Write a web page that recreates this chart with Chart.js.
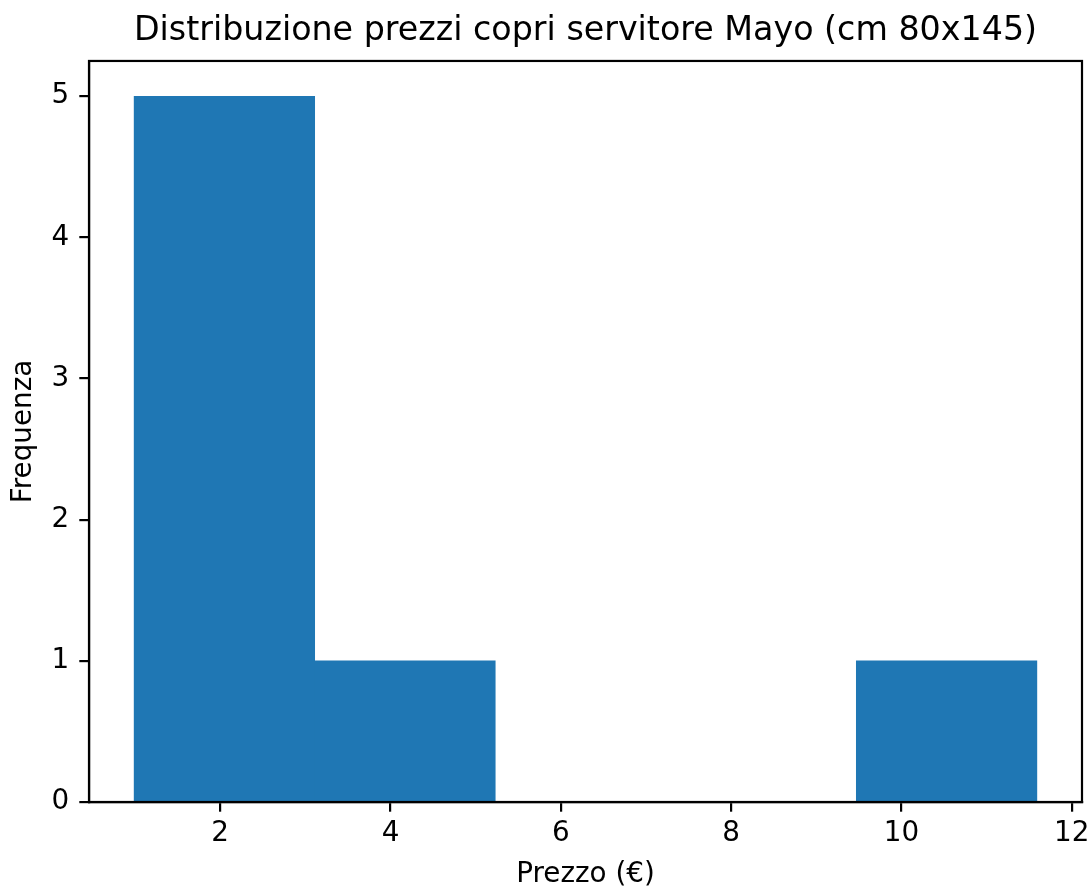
<!DOCTYPE html>
<html>
<head>
<meta charset="utf-8">
<script src="https://cdn.jsdelivr.net/npm/chart.js@4/dist/chart.umd.min.js"></script>
<style>
  html, body { margin: 0; padding: 0; background: #fff; }
  #wrap { width: 1087px; height: 886px; }
</style>
</head>
<body>
<div id="wrap"><canvas id="c" width="1087" height="886"></canvas></div>
<script>
// Histogram data
const binEdges = [0.99, 3.11, 5.23, 7.35, 9.47, 11.59];
const counts = [5, 1, 0, 0, 1];
const xTicks = [2, 4, 6, 8, 10, 12];
const yTicks = [0, 1, 2, 3, 4, 5];
const titleText = 'Distribuzione prezzi copri servitore Mayo (cm 80x145)';
const xLabel = 'Prezzo (€)';
const yLabel = 'Frequenza';

const FONT = 'DejaVu Sans';
const barData = counts.map((c, i) => ({ x: (binEdges[i] + binEdges[i + 1]) / 2, y: c }));
const span = binEdges[binEdges.length - 1] - binEdges[0];
const xMin = binEdges[0] - span * 0.05;
const xMax = binEdges[binEdges.length - 1] + span * 0.05;
const yMax = Math.max(...counts) * 1.05;

const frame = {
  id: 'frame',
  afterDraw(chart) {
    const { ctx, chartArea: a } = chart;
    ctx.save();
    ctx.strokeStyle = '#000';
    ctx.lineWidth = 2.2;
    ctx.strokeRect(a.left, a.top, a.right - a.left, a.bottom - a.top);
    ctx.restore();
  }
};

new Chart(document.getElementById('c'), {
  type: 'bar',
  data: {
    datasets: [{
      data: barData,
      backgroundColor: '#1f77b4',
      borderWidth: 0,
      barThickness: 'flex',
      barPercentage: 1,
      categoryPercentage: 1
    }]
  },
  options: {
    responsive: false,
    animation: false,
    devicePixelRatio: 1,
    layout: { padding: { left: 0, right: 5, top: 0, bottom: 0 } },
    plugins: {
      legend: { display: false },
      tooltip: { enabled: false },
      title: {
        display: true,
        text: titleText,
        fullSize: false,
        color: '#000',
        font: { family: FONT, size: 33.3, weight: 'normal', lineHeight: 1.2 },
        padding: { top: 11, bottom: 10 }
      }
    },
    scales: {
      x: {
        type: 'linear',
        min: xMin,
        max: xMax,
        offset: false,
        afterBuildTicks(s) { s.ticks = xTicks.map(v => ({ value: v })); },
        afterFit(s) { s.height = 84; s.paddingLeft = 0; s.paddingRight = 0; },
        ticks: {
          color: '#000',
          font: { family: FONT, size: 27.8, lineHeight: 1.2 },
          padding: 5.6,
          maxRotation: 0,
          autoSkip: false,
          callback: v => String(v)
        },
        grid: { offset: false, drawOnChartArea: false, drawTicks: true, tickLength: 9.7, color: '#000', lineWidth: 2.2 },
        border: { display: true, color: '#000', width: 2.2 },
        title: {
          display: true,
          text: xLabel,
          color: '#000',
          font: { family: FONT, size: 27.8, lineHeight: 1.0 },
          padding: { top: 0, bottom: -3 }
        }
      },
      y: {
        min: 0,
        max: yMax,
        afterBuildTicks(s) { s.ticks = yTicks.map(v => ({ value: v })); },
        afterFit(s) { s.width = 89; s.paddingTop = 0; s.paddingBottom = 0; },
        ticks: {
          color: '#000',
          font: { family: FONT, size: 27.8, lineHeight: 1.2 },
          padding: 10,
          callback: v => String(v)
        },
        grid: { drawOnChartArea: false, drawTicks: true, tickLength: 9.7, color: '#000', lineWidth: 2.2 },
        border: { display: true, color: '#000', width: 2.2 },
        title: {
          display: true,
          text: yLabel,
          color: '#000',
          font: { family: FONT, size: 27.8, lineHeight: 1.2 },
          padding: { top: 7, bottom: 0 }
        }
      }
    }
  },
  plugins: [frame]
});
</script>
</body>
</html>
